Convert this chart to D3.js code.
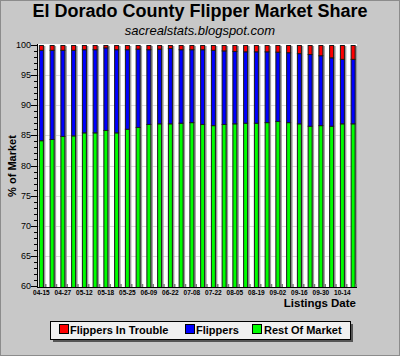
<!DOCTYPE html>
<html>
<head>
<meta charset="utf-8">
<script src="https://cdn.jsdelivr.net/npm/d3@7"></script>
<style>
  html, body { margin: 0; padding: 0; background: #c8c8c8; }
  svg { display: block; font-family: "Liberation Sans", Arial, sans-serif; }
</style>
</head>
<body>
<svg id="chart" width="400" height="356"></svg>
<script>
// ---- data ----
const tickLabels = ["04-15","","04-27","","05-12","","05-18","","05-25","","06-09","","06-22","","07-08","",
                    "07-22","","08-05","","08-19","","09-02","","09-16","","09-30","","10-14",""];
const restOfMarket = [84.2,84.4,84.9,85.0,85.5,85.5,85.9,85.5,86.1,86.4,86.9,87.0,87.0,87.1,87.2,
                      86.9,86.7,86.9,87.0,87.1,87.1,87.2,87.4,87.2,87.0,86.6,86.7,86.6,87.0,87.0];
const flippers = [15.0,14.8,14.3,14.2,13.8,13.8,13.7,13.8,13.2,13.0,12.4,12.4,12.5,12.2,12.1,
                  12.4,12.5,12.2,12.0,11.85,11.85,11.75,11.5,11.6,11.65,11.9,11.6,11.35,10.7,10.7];
const flippersInTrouble = [0.8,0.8,0.8,0.8,0.7,0.7,0.4,0.7,0.7,0.6,0.7,0.6,0.5,0.7,0.7,
                           0.7,0.8,0.9,1.0,1.05,1.05,1.05,1.1,1.2,1.35,1.5,1.7,2.05,2.3,2.3];
const seriesNames = ["Rest Of Market","Flippers","Flippers In Trouble"];
const seriesColors = ["#00ff00","#0000ff","#ff0000"];
const yTicks = [60,65,70,75,80,85,90,95,100];

const rows = tickLabels.map((lab, i) => ({
  idx: i, label: lab,
  "Rest Of Market": restOfMarket[i],
  "Flippers": flippers[i],
  "Flippers In Trouble": flippersInTrouble[i]
}));

const svg = d3.select("#chart");
const W = 400, H = 356;
const plot = {left: 37, right: 357, top: 44, bottom: 287};

// background + outer border
svg.append("rect").attr("x",0.5).attr("y",0.5).attr("width",W-1).attr("height",H-1)
  .attr("fill","#c8c8c8").attr("stroke","#8c8c8c");

// titles
svg.append("text").attr("x",200).attr("y",17).attr("text-anchor","middle")
  .attr("font-size",18).attr("font-weight","bold").attr("fill","#000")
  .text("El Dorado County Flipper Market Share");
svg.append("text").attr("x",200).attr("y",35).attr("text-anchor","middle")
  .attr("font-size",13).attr("font-style","italic").attr("fill","#000")
  .text("sacrealstats.blogspot.com");

// scales
const x = d3.scaleBand().domain(d3.range(rows.length)).range([36, 358.5]).padding(0);
const y = d3.scaleLinear().domain([60,100]).range([plot.bottom - 1, plot.top + 1]);

// plot area
svg.append("rect").attr("x",plot.left).attr("y",plot.top)
  .attr("width",plot.right-plot.left).attr("height",plot.bottom-plot.top).attr("fill","#ffffff");

// gridlines
svg.append("g").selectAll("line").data(yTicks.filter(t => t > 60 && t < 100)).join("line")
  .attr("x1",plot.left).attr("x2",plot.right)
  .attr("y1",d => Math.round(y(d))+0.5).attr("y2",d => Math.round(y(d))+0.5)
  .attr("stroke","#dcdcdc");

// clip
svg.append("clipPath").attr("id","clip").append("rect")
  .attr("x",plot.left).attr("y",plot.top-2).attr("width",plot.right-plot.left+4).attr("height",plot.bottom-plot.top+2);

const stack = d3.stack().keys(seriesNames);
const stacked = stack(rows);
const bw = 5;
const off = (x.bandwidth() - bw) / 2;

const barsG = svg.append("g").attr("clip-path","url(#clip)");
// shadows
barsG.append("g").selectAll("rect").data(rows).join("rect")
  .attr("x", d => x(d.idx) + off + 1.5)
  .attr("y", y(100) + 1)
  .attr("width", bw)
  .attr("height", y(60) - y(100) + 10)
  .attr("fill","#9a9a9a");

stacked.forEach((s, si) => {
  barsG.append("g").selectAll("rect").data(s).join("rect")
    .attr("x", d => x(d.data.idx) + off + 0.5)
    .attr("y", d => y(d[1]) + 0.5)
    .attr("width", bw - 1)
    .attr("height", d => Math.max(0, y(Math.max(d[0], 55)) - y(d[1])))
    .attr("fill", seriesColors[si])
    .attr("stroke","#1a1a1a").attr("stroke-width",1);
});

// y axis
const yAxis = svg.append("g");
yAxis.append("line").attr("x1",plot.left+0.5).attr("x2",plot.left+0.5)
  .attr("y1",plot.top).attr("y2",plot.bottom).attr("stroke","#000");
const minor = d3.range(60,101,1);
yAxis.selectAll("line.t").data(minor).join("line").attr("class","t")
  .attr("x1", d => d % 5 === 0 ? plot.left - 6 : plot.left - 3).attr("x2", plot.left)
  .attr("y1", d => Math.round(y(d))+0.5).attr("y2", d => Math.round(y(d))+0.5)
  .attr("stroke","#000");
yAxis.selectAll("text").data(yTicks).join("text")
  .attr("x", plot.left - 6).attr("y", d => y(d) + 3)
  .attr("text-anchor","end").attr("font-size",9).attr("fill","#000")
  .text(d => d);

svg.append("text").attr("transform","translate(16,166) rotate(-90)")
  .attr("text-anchor","middle").attr("font-size",11).attr("font-weight","bold")
  .text("% of Market");

// x axis
const xAxis = svg.append("g");
xAxis.append("line").attr("x1",plot.left).attr("x2",plot.right)
  .attr("y1",plot.bottom+0.5).attr("y2",plot.bottom+0.5).attr("stroke","#000");
xAxis.selectAll("line.t").data(d3.range(1, rows.length+1)).join("line").attr("class","t")
  .attr("x1", d => Math.min(x(d-1) + x.step() - 1, plot.right - 1)).attr("x2", d => Math.min(x(d-1) + x.step() - 1, plot.right - 1))
  .attr("y1", plot.bottom - 3).attr("y2", plot.bottom)
  .attr("stroke","#777").attr("stroke-width",1.5);
xAxis.selectAll("text").data(rows.filter(d => d.label)).join("text")
  .attr("x", d => x(d.idx) + off + bw/2).attr("y", 294.5)
  .attr("text-anchor","middle").attr("font-size",6.5).attr("font-weight","bold").attr("fill","#000")
  .text(d => d.label);

svg.append("text").attr("x",356).attr("y",306.5).attr("text-anchor","end")
  .attr("font-size",11.5).attr("font-weight","bold").text("Listings Date");

// legend
const leg = svg.append("g");
leg.append("rect").attr("x",53).attr("y",324).attr("width",300).attr("height",18).attr("fill","#555");
leg.append("rect").attr("x",50.5).attr("y",321.5).attr("width",300).attr("height",18)
  .attr("fill","#f0f0f0").attr("stroke","#000");
const legItems = [
  {name: seriesNames[2], color: seriesColors[2], sx: 59, tx: 70},
  {name: seriesNames[1], color: seriesColors[1], sx: 185, tx: 196},
  {name: seriesNames[0], color: seriesColors[0], sx: 252, tx: 264}
];
legItems.forEach(it => {
  leg.append("rect").attr("x",it.sx+0.5).attr("y",324.5).attr("width",9).attr("height",9)
    .attr("fill",it.color).attr("stroke","#000");
  leg.append("text").attr("x",it.tx).attr("y",334).attr("font-size",11).attr("font-weight","bold")
    .text(it.name);
});
</script>
</body>
</html>
